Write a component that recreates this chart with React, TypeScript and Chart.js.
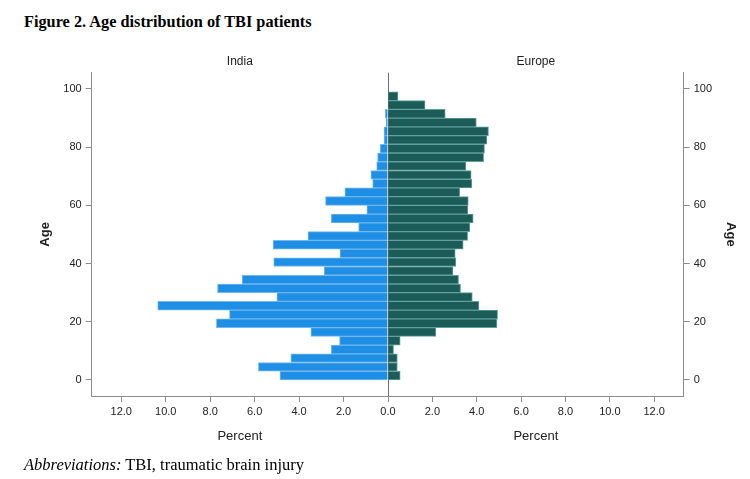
import React, { useEffect, useRef } from "react";
import { Chart, registerables } from "chart.js";

Chart.register(...registerables);

// Age bins (3-year bins, value = bin centre)
const ageBinCenters = [
  1.5, 4.5, 7.5, 10.5, 13.5, 16.5, 19.5, 22.5, 25.5, 28.5, 31.5,
  34.5, 37.5, 40.5, 43.5, 46.5, 49.5, 52.5, 55.5, 58.5, 61.5, 64.5,
  67.5, 70.5, 73.5, 76.5, 79.5, 82.5, 85.5, 88.5, 91.5, 94.5, 97.5,
];

// Percent of patients per bin
const indiaPercent = [
  4.86, 5.83, 4.37, 2.55, 2.18, 3.47, 7.72, 7.13, 10.36, 5.0, 7.67,
  6.56, 2.87, 5.14, 2.16, 5.17, 3.6, 1.32, 2.55, 0.95, 2.81, 1.94,
  0.69, 0.77, 0.51, 0.47, 0.35, 0.18, 0.18, 0.08, 0.12, 0, 0,
];

const europePercent = [
  0.55, 0.42, 0.42, 0.25, 0.55, 2.16, 4.91, 4.94, 4.1, 3.8, 3.27,
  3.18, 2.93, 3.06, 3.03, 3.39, 3.59, 3.69, 3.84, 3.6, 3.62, 3.23,
  3.78, 3.75, 3.51, 4.31, 4.35, 4.46, 4.53, 3.98, 2.58, 1.67, 0.45,
];

const ageTicks = [0, 20, 40, 60, 80, 100];
const percentTicks = [0, 2, 4, 6, 8, 10, 12];
const panelNames = ["India", "Europe"];
const ageAxisTitle = "Age";
const percentAxisTitle = "Percent";

const AGE_MIN = -5.5;
const AGE_MAX = 105.6;
const PCT_MAX = 13.33;

const AXIS_COLOR = "#8c8c8c";
const TEXT_COLOR = "#222222";
const FONT = "'Liberation Sans', Arial, sans-serif";

function makeConfig(isLeft: boolean): any {
  const values = isLeft ? indiaPercent : europePercent;
  return {
    type: "bar",
    data: {
      datasets: [
        {
          data: ageBinCenters.map((a, i) => ({ x: values[i], y: a })),
          backgroundColor: isLeft ? "#1f8fe6" : "#1b5c58",
          borderColor: isLeft ? "#72b7ee" : "#62a09b",
          borderWidth: 1,
          barPercentage: 1,
          categoryPercentage: 1,
        },
      ],
    },
    options: {
      indexAxis: "y",
      animation: false,
      responsive: false,
      maintainAspectRatio: false,
      events: [],
      layout: {
        padding: isLeft
          ? { left: 0, right: 12, top: 0, bottom: 0 }
          : { left: 12, right: 0, top: 0, bottom: 0 },
      },
      plugins: {
        legend: { display: false },
        tooltip: { enabled: false },
        title: {
          display: true,
          fullSize: false,
          text: isLeft ? panelNames[0] : panelNames[1],
          color: TEXT_COLOR,
          font: { family: FONT, size: 12, weight: "normal" },
          padding: { top: 54.3, bottom: 4 },
        },
      },
      scales: {
        x: {
          type: "linear",
          min: 0,
          max: PCT_MAX,
          reverse: isLeft,
          offset: false,
          afterBuildTicks: (s: any) => {
            s.ticks = percentTicks.map((v) => ({ value: v }));
          },
          afterFit: (s: any) => {
            s.height = 64;
          },
          ticks: {
            autoSkip: false,
            maxRotation: 0,
            padding: 3,
            color: TEXT_COLOR,
            font: { family: FONT, size: 11 },
            callback: (v: any) =>
              !isLeft && Number(v) === 0 ? "" : Number(v).toFixed(1),
          },
          grid: {
            offset: false,
            drawOnChartArea: isLeft,
            drawTicks: true,
            tickLength: 6,
            tickColor: AXIS_COLOR,
            lineWidth: 1,
            color: (ctx: any) =>
              ctx.tick && ctx.tick.value === 0 ? "#6e6e6e" : "rgba(0,0,0,0)",
          },
          border: { display: true, color: AXIS_COLOR, width: 1 },
          title: {
            display: true,
            text: percentAxisTitle,
            color: TEXT_COLOR,
            font: { family: FONT, size: 13 },
            padding: { top: 0, bottom: 16.2 },
          },
        },
        y: {
          type: "linear",
          position: isLeft ? "left" : "right",
          min: AGE_MIN,
          max: AGE_MAX,
          offset: false,
          afterBuildTicks: (s: any) => {
            s.ticks = ageTicks.map((v) => ({ value: v }));
          },
          afterFit: (s: any) => {
            s.width = isLeft ? 91.7 : 66.3;
          },
          ticks: {
            padding: 4,
            color: TEXT_COLOR,
            font: { family: FONT, size: 11 },
            callback: (v: any) => String(v),
          },
          grid: {
            offset: false,
            drawOnChartArea: false,
            drawTicks: true,
            tickLength: 6,
            tickColor: AXIS_COLOR,
            color: AXIS_COLOR,
          },
          border: { display: true, color: AXIS_COLOR, width: 1 },
          title: {
            display: true,
            text: ageAxisTitle,
            color: TEXT_COLOR,
            font: { family: FONT, size: 13, weight: "bold" },
            padding: { top: isLeft ? 37.2 : 11.7, bottom: 0 },
          },
        },
      },
    },
  };
}

export default function App() {
  const leftRef = useRef<HTMLCanvasElement | null>(null);
  const rightRef = useRef<HTMLCanvasElement | null>(null);

  useEffect(() => {
    const charts: Chart[] = [];
    if (leftRef.current) charts.push(new Chart(leftRef.current, makeConfig(true)));
    if (rightRef.current) charts.push(new Chart(rightRef.current, makeConfig(false)));
    return () => {
      charts.forEach((c) => c.destroy());
    };
  }, []);

  return (
    <div
      style={{
        position: "absolute",
        left: 0,
        top: 0,
        width: 750,
        height: 479,
        background: "#ffffff",
        overflow: "hidden",
      }}
    >
      <div
        style={{
          position: "absolute",
          left: 24,
          top: 12,
          fontFamily: "'Liberation Serif', 'Times New Roman', serif",
          fontWeight: "bold",
          fontSize: 16.3,
          color: "#000",
          whiteSpace: "nowrap",
        }}
      >
        Figure 2. Age distribution of TBI patients
      </div>
      <canvas
        ref={leftRef}
        width={400}
        height={460}
        style={{ position: "absolute", left: 0, top: 0, width: 400, height: 460 }}
      />
      <canvas
        ref={rightRef}
        width={374}
        height={460}
        style={{ position: "absolute", left: 376, top: 0, width: 374, height: 460 }}
      />
      <div
        style={{
          position: "absolute",
          left: 24,
          top: 455,
          fontFamily: "'Liberation Serif', 'Times New Roman', serif",
          fontSize: 16.5,
          color: "#000",
          whiteSpace: "nowrap",
        }}
      >
        <i>Abbreviations:</i> TBI, traumatic brain injury
      </div>
    </div>
  );
}
